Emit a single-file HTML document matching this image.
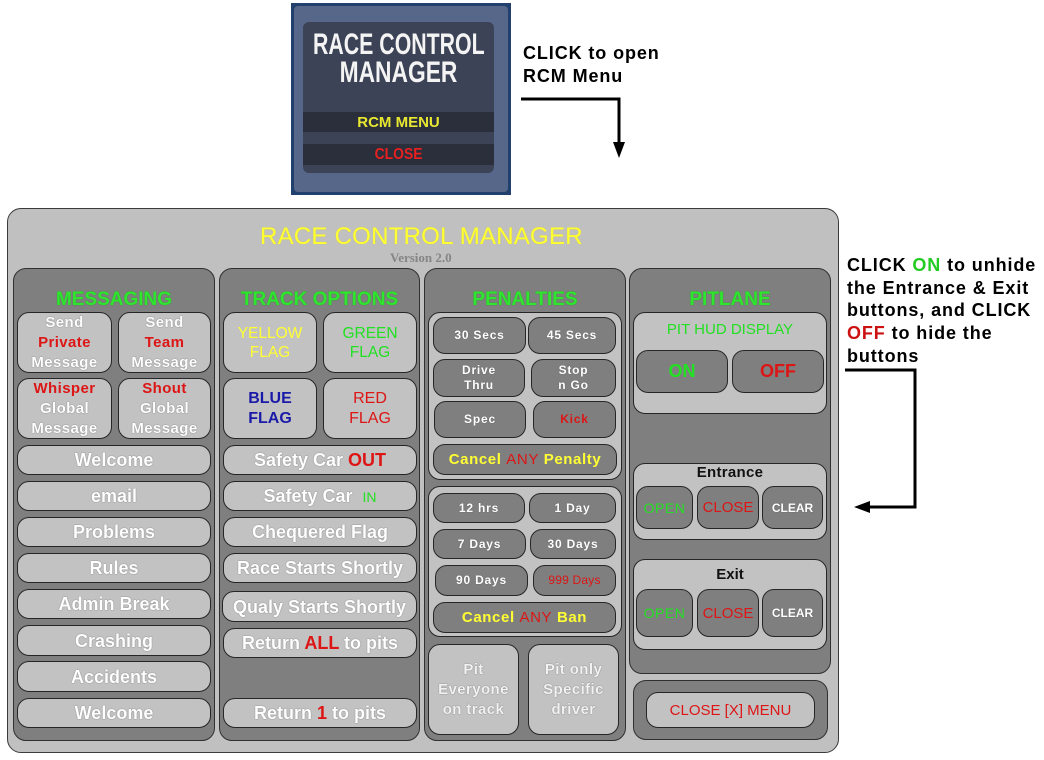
<!DOCTYPE html>
<html><head><meta charset="utf-8"><style>
*{margin:0;padding:0;box-sizing:border-box}
html,body{width:1044px;height:760px;background:#fff;overflow:hidden;font-family:"Liberation Sans",Arial,sans-serif;position:relative}
.a{position:absolute}
.b{position:absolute;display:flex;align-items:center;justify-content:center;text-align:center;flex-direction:column}
.lb{background:#c2c2c2;border:1px solid #262626;border-radius:12px}
.db{background:#7f7f7f;border:1px solid #262626;border-radius:12px}
.col{position:absolute;background:#7f7f7f;border:1px solid #303030;border-radius:13px}
.w{color:#fff;font-weight:bold;text-shadow:0 0 1px #555}
.L{font-size:18px;line-height:20px}
.hd{position:absolute;top:290px;height:20px;line-height:20px;text-align:center;color:#2fe62f;font-weight:bold;font-size:19px;text-shadow:0 0 1px #1a8a1a}
.m3{font-size:15px;line-height:20px;letter-spacing:0.4px}
.p{font-size:12px;line-height:15px;letter-spacing:0.8px}
.r{color:#dd1515}.g{color:#22e022}.y{color:#ffff33}
.ann{position:absolute;font-weight:bold;font-size:18px;letter-spacing:0.9px;color:#000}
.tt{position:absolute;left:303px;width:191px;height:30px;text-align:center;color:#f4f4f4;font-weight:bold;font-size:30px;line-height:30px;white-space:nowrap;overflow:visible;display:flex;justify-content:center}
</style></head><body>

<!-- top image -->
<div class="a" style="left:291px;top:3px;width:220px;height:192px;background:#21406e;"></div>
<div class="a" style="left:294px;top:6px;width:214px;height:186px;background:#56678a;border-radius:4px;"></div>
<div class="a" style="left:303px;top:22px;width:191px;height:151px;background:#3c4356;border-radius:6px;"></div>
<div class="tt" style="top:30px;"><span style="display:inline-block;white-space:nowrap;transform:scaleX(0.71);">RACE CONTROL</span></div>
<div class="tt" style="top:58px;"><span style="display:inline-block;white-space:nowrap;transform:scaleX(0.76);">MANAGER</span></div>
<div class="b" style="left:303px;top:112px;width:191px;height:20px;background:#2b2f3b;color:#e8e830;font-weight:bold;font-size:15px;">RCM MENU</div>
<div class="b" style="left:303px;top:144px;width:191px;height:21px;background:#2b2f3b;color:#e82020;font-weight:bold;font-size:16px;"><span style="display:inline-block;transform:scaleX(0.87);">CLOSE</span></div>

<!-- annotations -->
<div class="ann" style="left:523px;top:42px;line-height:23px;">CLICK to open<br>RCM Menu</div>
<div class="ann" style="left:847px;top:254px;line-height:22.7px;">CLICK <span style="color:#22cc22">ON</span> to unhide<br>the Entrance &amp; Exit<br>buttons, and CLICK<br><span style="color:#cc1111">OFF</span> to hide the<br>buttons</div>

<svg class="a" style="left:0;top:0" width="1044" height="760">
<polyline points="521,99 619,99 619,146" fill="none" stroke="#000" stroke-width="3"/>
<polygon points="613,142 625,142 619,158" fill="#000"/>
<polyline points="845,370 915,370 915,507 868,507" fill="none" stroke="#000" stroke-width="3"/>
<polygon points="870,501 870,513 854,507" fill="#000"/>
</svg>

<!-- main panel -->
<div class="a" style="left:7px;top:208px;width:832px;height:545px;background:#c0c0c0;border:1px solid #3a3a3a;border-radius:14px;"></div>
<div class="a" style="left:260px;top:224px;height:26px;line-height:26px;font-size:24px;letter-spacing:0.25px;color:#ffff33;white-space:nowrap;text-shadow:0 0 0.6px #cc0;">RACE CONTROL MANAGER</div>
<div class="a" style="left:390px;top:251px;height:14px;line-height:14px;font-family:'Liberation Serif',serif;font-weight:bold;font-size:13px;color:#858585;white-space:nowrap;">Version 2.0</div>

<!-- columns -->
<div class="col" style="left:13px;top:268px;width:202px;height:473px;"></div>
<div class="col" style="left:219px;top:268px;width:201px;height:473px;"></div>
<div class="col" style="left:424px;top:268px;width:202px;height:473px;"></div>
<div class="col" style="left:629px;top:268px;width:202px;height:406px;"></div>
<div class="col" style="left:633px;top:680px;width:195px;height:60px;"></div>

<div class="hd" style="left:13px;width:202px;">MESSAGING</div>
<div class="hd" style="left:219px;width:201px;">TRACK OPTIONS</div>
<div class="hd" style="left:424px;width:202px;">PENALTIES</div>
<div class="hd" style="left:629px;width:202px;">PITLANE</div>

<!-- messaging -->
<div class="b lb w m3" style="left:17px;top:312px;width:95px;height:61px;"><div>Send</div><div class="r" style="text-shadow:none">Private</div><div>Message</div></div>
<div class="b lb w m3" style="left:118px;top:312px;width:93px;height:61px;"><div>Send</div><div class="r" style="text-shadow:none">Team</div><div>Message</div></div>
<div class="b lb w m3" style="left:17px;top:378px;width:95px;height:61px;"><div class="r" style="text-shadow:none">Whisper</div><div>Global</div><div>Message</div></div>
<div class="b lb w m3" style="left:118px;top:378px;width:93px;height:61px;"><div class="r" style="text-shadow:none">Shout</div><div>Global</div><div>Message</div></div>
<div class="b lb w L" style="left:17px;top:445px;width:194px;height:30px;">Welcome</div>
<div class="b lb w L" style="left:17px;top:481px;width:194px;height:30px;">email</div>
<div class="b lb w L" style="left:17px;top:517px;width:194px;height:30px;">Problems</div>
<div class="b lb w L" style="left:17px;top:553px;width:194px;height:30px;">Rules</div>
<div class="b lb w L" style="left:17px;top:589px;width:194px;height:30px;">Admin Break</div>
<div class="b lb w L" style="left:17px;top:625px;width:194px;height:31px;">Crashing</div>
<div class="b lb w L" style="left:17px;top:661px;width:194px;height:31px;">Accidents</div>
<div class="b lb w L" style="left:17px;top:698px;width:194px;height:30px;">Welcome</div>

<!-- track options -->
<div class="b lb y" style="left:223px;top:312px;width:94px;height:61px;font-size:15.5px;line-height:19px;"><div>YELLOW</div><div>FLAG</div></div>
<div class="b lb g" style="left:323px;top:312px;width:94px;height:61px;font-size:15.5px;line-height:19px;"><div>GREEN</div><div>FLAG</div></div>
<div class="b lb" style="left:223px;top:378px;width:94px;height:61px;font-size:16px;line-height:20px;font-weight:bold;color:#1a1aa8;"><div>BLUE</div><div>FLAG</div></div>
<div class="b lb r" style="left:323px;top:378px;width:94px;height:61px;font-size:16px;line-height:20px;"><div>RED</div><div>FLAG</div></div>
<div class="b lb w L" style="left:223px;top:445px;width:194px;height:30px;"><div>Safety Car <span class="r" style="text-shadow:none">OUT</span></div></div>
<div class="b lb w L" style="left:223px;top:481px;width:194px;height:30px;"><div>Safety Car &nbsp;<span class="g" style="font-weight:normal;font-size:14px;text-shadow:none">IN</span></div></div>
<div class="b lb w L" style="left:223px;top:517px;width:194px;height:30px;">Chequered Flag</div>
<div class="b lb w L" style="left:223px;top:553px;width:194px;height:30px;white-space:nowrap;">Race Starts Shortly</div>
<div class="b lb w L" style="left:222px;top:591px;width:195px;height:31px;white-space:nowrap;">Qualy Starts Shortly</div>
<div class="b lb w L" style="left:223px;top:628px;width:194px;height:30px;white-space:nowrap;"><div>Return <span class="r" style="text-shadow:none">ALL</span> to pits</div></div>
<div class="b lb w L" style="left:223px;top:698px;width:194px;height:30px;"><div>Return <span class="r" style="text-shadow:none">1</span> to pits</div></div>

<!-- penalties -->
<div class="a lb" style="left:428px;top:312px;width:194px;height:168px;"></div>
<div class="b db w p" style="left:433px;top:317px;width:93px;height:37px;">30 Secs</div>
<div class="b db w p" style="left:528px;top:317px;width:88px;height:37px;">45 Secs</div>
<div class="b db w p" style="left:433px;top:359px;width:92px;height:38px;"><div>Drive</div><div>Thru</div></div>
<div class="b db w p" style="left:531px;top:359px;width:85px;height:38px;"><div>Stop</div><div>n Go</div></div>
<div class="b db w p" style="left:434px;top:401px;width:92px;height:37px;">Spec</div>
<div class="b db p r" style="left:533px;top:401px;width:83px;height:37px;font-weight:bold;">Kick</div>
<div class="b db" style="left:433px;top:444px;width:184px;height:31px;font-size:15px;font-weight:bold;letter-spacing:0.6px;white-space:nowrap;"><div><span class="y">Cancel</span> <span class="r" style="font-weight:normal">ANY</span> <span class="y">Penalty</span></div></div>

<div class="a lb" style="left:428px;top:486px;width:194px;height:151px;"></div>
<div class="b db w p" style="left:433px;top:493px;width:92px;height:30px;">12 hrs</div>
<div class="b db w p" style="left:529px;top:493px;width:87px;height:30px;">1 Day</div>
<div class="b db w p" style="left:433px;top:529px;width:93px;height:30px;">7 Days</div>
<div class="b db w p" style="left:530px;top:529px;width:86px;height:30px;">30 Days</div>
<div class="b db w p" style="left:435px;top:565px;width:93px;height:31px;">90 Days</div>
<div class="b db p r" style="left:533px;top:565px;width:83px;height:31px;letter-spacing:0.2px;">999 Days</div>
<div class="b db" style="left:433px;top:602px;width:183px;height:31px;font-size:15px;font-weight:bold;letter-spacing:0.6px;white-space:nowrap;"><div><span class="y">Cancel</span> <span class="r" style="font-weight:normal">ANY</span> <span class="y">Ban</span></div></div>

<div class="b lb w m3" style="left:428px;top:644px;width:91px;height:91px;color:#f2f2f2;"><div>Pit</div><div>Everyone</div><div>on track</div></div>
<div class="b lb w m3" style="left:528px;top:644px;width:91px;height:91px;color:#f2f2f2;"><div>Pit only</div><div>Specific</div><div>driver</div></div>

<!-- pitlane -->
<div class="a lb" style="left:633px;top:312px;width:194px;height:102px;"></div>
<div class="a g" style="left:633px;top:320px;width:194px;height:20px;line-height:20px;text-align:center;font-size:15px;">PIT HUD DISPLAY</div>
<div class="b db g" style="left:636px;top:350px;width:92px;height:43px;font-weight:bold;font-size:18px;">ON</div>
<div class="b db r" style="left:732px;top:350px;width:92px;height:43px;font-weight:bold;font-size:18px;">OFF</div>

<div class="a lb" style="left:633px;top:463px;width:194px;height:77px;"></div>
<div class="a" style="left:633px;top:463px;width:194px;height:19px;line-height:19px;text-align:center;font-size:15px;font-weight:bold;color:#111;letter-spacing:0.3px;">Entrance</div>
<div class="b db g" style="left:636px;top:486px;width:57px;height:43px;font-size:14px;letter-spacing:0.5px;">OPEN</div>
<div class="b db r" style="left:697px;top:486px;width:62px;height:43px;font-size:15px;">CLOSE</div>
<div class="b db w" style="left:762px;top:486px;width:61px;height:43px;font-size:12px;">CLEAR</div>

<div class="a lb" style="left:633px;top:559px;width:194px;height:91px;"></div>
<div class="a" style="left:633px;top:565px;width:194px;height:19px;line-height:19px;text-align:center;font-size:15px;font-weight:bold;color:#111;">Exit</div>
<div class="b db g" style="left:636px;top:589px;width:57px;height:48px;font-size:14px;letter-spacing:0.5px;">OPEN</div>
<div class="b db r" style="left:697px;top:589px;width:62px;height:48px;font-size:15px;">CLOSE</div>
<div class="b db w" style="left:762px;top:589px;width:61px;height:48px;font-size:12px;">CLEAR</div>

<div class="b lb r" style="left:646px;top:692px;width:169px;height:36px;font-size:15px;white-space:nowrap;">CLOSE [X] MENU</div>

</body></html>
